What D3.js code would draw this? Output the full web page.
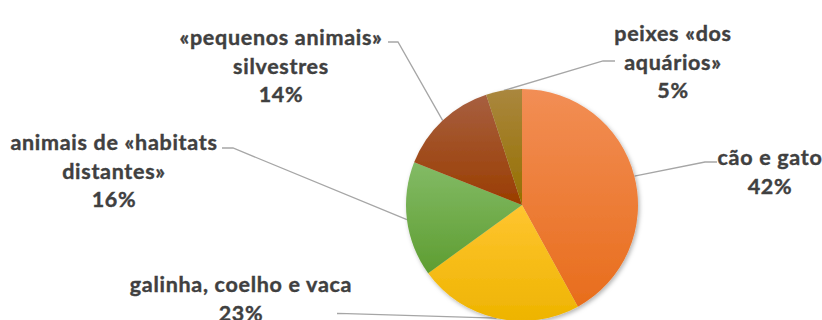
<!DOCTYPE html>
<html>
<head>
<meta charset="utf-8">
<script src="https://cdn.jsdelivr.net/npm/d3@7"></script>
<style>
  html, body { margin: 0; padding: 0; background: #ffffff; }
  svg { display: block; }
</style>
</head>
<body>
<svg id="chart" width="822" height="320"></svg>
<script>
// Slices, clockwise from 12 o'clock
const categories = [
  "cão e gato",
  "galinha, coelho e vaca",
  "animais de «habitats\ndistantes»",
  "«pequenos animais»\nsilvestres",
  "peixes «dos\naquários»"
];
const values = [42, 23, 16, 14, 5];
const valueLabels = ["42%", "23%", "16%", "14%", "5%"];

// Fill colours: lighter top stop, darker bottom stop
const palette = [
  ["#f28e55", "#e86d1c"],
  ["#ffc530", "#eeb400"],
  ["#83bb66", "#5e9d31"],
  ["#a75f40", "#9a3d00"],
  ["#aa873e", "#956f00"]
];

const W = 822, H = 320;
const cx = 522, cy = 205, R = 116;
const fontSize = 21.5, lineH = 28.5;

// Label placement: centre x, first baseline, and leader polyline (label side)
const layout = [
  { x: 770, y: 165, lead: [[717, 162], [705, 162]] },
  { x: 241, y: 292, lead: [[337, 313.5], [347, 313.7]] },
  { x: 114, y: 150, lead: [[222, 148], [233, 148]] },
  { x: 281, y: 45,  lead: [[388, 42], [398, 42]] },
  { x: 673, y: 41,  lead: [[615, 61], [603, 61]] }
];

const svg = d3.select("#chart");
const defs = svg.append("defs");

palette.forEach((c, i) => {
  const g = defs.append("linearGradient")
    .attr("id", "grad" + i)
    .attr("x1", 0).attr("y1", 0).attr("x2", 0).attr("y2", 1);
  g.append("stop").attr("offset", "0%").attr("stop-color", c[0]);
  g.append("stop").attr("offset", "100%").attr("stop-color", c[1]);
});

const shadow = defs.append("filter").attr("id", "shadow")
  .attr("x", "-20%").attr("y", "-20%").attr("width", "140%").attr("height", "140%");
shadow.append("feDropShadow")
  .attr("dx", 1.5).attr("dy", 2).attr("stdDeviation", 2.2)
  .attr("flood-color", "#000").attr("flood-opacity", 0.3);

const pie = d3.pie().sort(null).value(d => d)
  .startAngle(0).endAngle(2 * Math.PI);
const arcs = pie(values);
const arc = d3.arc().innerRadius(0).outerRadius(R);

// Leader lines: from the slice edge at its mid angle to the label
const leaders = svg.append("g");
arcs.forEach((a, i) => {
  const mid = (a.startAngle + a.endAngle) / 2;
  const edge = [cx + R * Math.sin(mid), cy - R * Math.cos(mid)];
  const pts = layout[i].lead.concat([edge]);
  leaders.append("path")
    .attr("d", d3.line()(pts))
    .attr("fill", "none")
    .attr("stroke", "#a6a6a6")
    .attr("stroke-width", 1.3);
});

const pieG = svg.append("g")
  .attr("transform", `translate(${cx},${cy})`)
  .attr("filter", "url(#shadow)");
pieG.selectAll("path")
  .data(arcs)
  .join("path")
  .attr("d", arc)
  .attr("fill", (d, i) => `url(#grad${i})`);

// Data labels
const labels = svg.append("g")
  .attr("font-family", "Lato, 'Open Sans', sans-serif")
  .attr("font-weight", "bold")
  .attr("font-size", fontSize)
  .attr("letter-spacing", 0.7)
  .attr("fill", "#404040")
  .attr("stroke", "#404040")
  .attr("stroke-width", 0.4)
  .attr("text-anchor", "middle");

categories.forEach((c, i) => {
  const lines = c.split("\n").concat([valueLabels[i]]);
  const t = labels.append("text");
  lines.forEach((ln, j) => {
    t.append("tspan")
      .attr("x", layout[i].x)
      .attr("y", layout[i].y + j * lineH)
      .text(ln);
  });
});
</script>
</body>
</html>
